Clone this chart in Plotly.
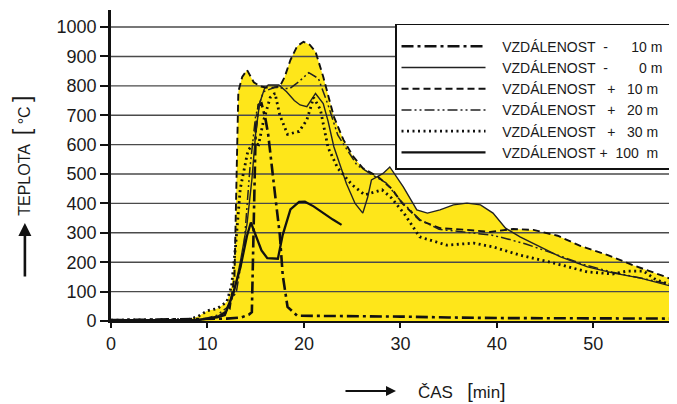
import plotly.graph_objects as go

# ---------------- data ----------------
t_m10 = [0, 5, 10, 12, 13.5, 14.3, 14.6, 14.8, 15.0, 15.3, 15.6, 16.0, 16.3, 16.9, 17.5, 17.8, 18.3, 19.3, 25, 30, 35, 40, 50, 59.5]
T_m10 = [3, 5, 6, 8, 12, 22, 30, 300, 650, 735, 740, 690, 633, 460, 293, 156, 48, 18, 17, 15, 12, 10, 9, 8]

t_0 = [0, 9, 10, 11, 12, 12.7, 13.4, 14.1, 14.6, 15.0, 15.4, 15.9, 16.3, 17.4, 18.2, 19.0, 19.6, 20.3, 21.2, 22.0,
       22.5, 23.1, 24.4, 25.3, 26.1, 26.6, 27.0, 28.2, 28.9, 30.3, 31.7, 32.8, 34.1, 35.5, 36.9, 38.3, 39.6, 40.9,
       42.4, 44.2, 46.6, 49.4, 52.1, 54.9, 58.7, 59.5]
T_0 = [2, 3, 8, 15, 35, 90, 200, 330, 480, 640, 740, 790, 803, 803, 780, 750, 735, 729, 774, 740,
       680, 593, 468, 400, 367, 420, 480, 502, 524, 456, 378, 367, 378, 395, 401, 395, 367, 316,
       286, 258, 218, 184, 163, 146, 112, 106]

t_p10 = [0, 5, 9, 10, 11, 12, 12.3, 12.8, 13.0, 13.2, 13.6, 14.1, 14.8, 15.5, 16.5, 17.5, 18.0, 18.6, 19.3, 19.95,
         20.6, 21.2, 22.0, 23.1, 24.1, 25.1, 26.1, 27.7, 29.1, 30.2, 32.0, 34.1, 36.9, 39.3, 41.7, 43.8, 46.3,
         48.7, 51.5, 54.1, 57.0, 58.7, 59.5]
T_p10 = [0, 2, 4, 8, 15, 30, 40, 150, 500, 780, 830, 854, 812, 798, 792, 798, 830, 888, 935, 950,
         940, 916, 831, 695, 616, 560, 520, 490, 450, 400, 343, 316, 310, 303, 313, 310, 290,
         255, 224, 190, 156, 133, 124]

t_p20 = [0, 9, 10, 11, 12, 13, 13.8, 14.4, 15.0, 15.8, 17.0, 18.5, 19.5, 20.5, 21.5, 22.5, 23.5, 25.5, 27.1,
         28.5, 30, 32, 34, 37, 39.5, 41, 43, 46, 49, 52, 55, 58.7, 59.5]
T_p20 = [2, 4, 10, 20, 45, 100, 260, 520, 700, 780, 795, 790, 815, 845, 825, 735, 633, 530, 497,
         470, 410, 345, 312, 302, 292, 280, 262, 228, 192, 166, 146, 120, 113]

t_p30 = [0, 8, 9, 10, 11, 12, 12.5, 12.9, 13.4, 14.2, 14.8, 15.3, 15.8, 16.5, 17.0, 17.5, 18.3, 19.5, 20.3, 21.0,
         21.7, 22.5, 23.5, 25.0, 26.3, 27.4, 28.1, 29.1, 30.5, 32.0, 34.8, 37.6, 39.6, 42.4, 45.9, 49.4, 52.0,
         53.5, 55.2, 56.5, 58.7, 59.5]
T_p30 = [3, 5, 15, 35, 42, 65, 120, 250, 450, 580, 605, 600, 680, 760, 775, 700, 635, 645, 684, 760,
         720, 590, 520, 463, 429, 439, 446, 418, 360, 286, 258, 265, 252, 224, 197, 167, 160,
         170, 170, 140, 116, 110]

t_p100 = [0, 9, 10, 11, 11.8, 12.7, 13.4, 14.1, 14.5, 15.0, 15.6, 16.2, 17.3, 17.8, 18.6, 19.5, 20.1, 21.0, 22.0, 23.0, 23.9]
T_p100 = [3, 3, 8, 12, 20, 99, 180, 290, 335, 290, 240, 214, 212, 293, 380, 405, 406, 390, 366, 345, 327]

NB = "\u00a0"
HEAD = NB * 3
TAIL = NB * 1
series_names = [HEAD + "VZDÁLENOST" + NB * 2 + "-" + NB * 6 + "10" + NB + "m" + TAIL,
                HEAD + "VZDÁLENOST" + NB * 2 + "-" + NB * 8 + "0" + NB + "m" + TAIL,
                HEAD + "VZDÁLENOST" + NB * 3 + "+" + NB * 3 + "10" + NB + "m" + TAIL,
                HEAD + "VZDÁLENOST" + NB * 3 + "+" + NB * 3 + "20" + NB + "m" + TAIL,
                HEAD + "VZDÁLENOST" + NB * 3 + "+" + NB * 3 + "30" + NB + "m" + TAIL,
                HEAD + "VZDÁLENOST" + NB + "+" + NB * 2 + "100" + NB * 2 + "m" + TAIL]

y_ticks = [0, 100, 200, 300, 400, 500, 600, 700, 800, 900, 1000]
x_ticks = [0, 10, 20, 30, 40, 50]
x_max = 59.5
y_max = 1058

# ---------------- figure ----------------
YELLOW = "#FEE61A"
series = [(t_m10, T_m10), (t_0, T_0), (t_p10, T_p10), (t_p20, T_p20), (t_p30, T_p30), (t_p100, T_p100)]
styles = [
    dict(color="#111", width=2.6, dash="12px,4px,3px,4px"),
    dict(color="#222", width=1.4, dash="solid"),
    dict(color="#111", width=1.9, dash="7px,4px"),
    dict(color="#222", width=1.5, dash="10px,3px,2px,3px,2px,3px"),
    dict(color="#111", width=2.8, dash="2px,3.5px"),
    dict(color="#111", width=2.3, dash="solid"),
]

fig = go.Figure()

# yellow filled area under every curve (opaque fills -> union)
for (tx, ty) in series:
    fig.add_trace(go.Scatter(x=tx, y=ty, mode="lines", fill="tozeroy",
                             fillcolor=YELLOW, line=dict(width=0, color=YELLOW),
                             showlegend=False, hoverinfo="skip"))

# horizontal grid lines over the fill
gx, gy = [], []
for v in y_ticks[1:]:
    gx += [0, x_max, None]
    gy += [v, v, None]
fig.add_trace(go.Scatter(x=gx, y=gy, mode="lines", line=dict(color="#4a4a4a", width=1.4),
                         showlegend=False, hoverinfo="skip"))

for (tx, ty), name, st in zip(series, series_names, styles):
    fig.add_trace(go.Scatter(x=tx, y=ty, mode="lines", name=name, line=st, cliponaxis=False))

fig.update_layout(
    width=677, height=404,
    margin=dict(l=103, r=0, t=2, b=91),
    paper_bgcolor="white", plot_bgcolor="white",
    font=dict(family="Arial, Liberation Sans, sans-serif", color="#1a1a1a"),
    showlegend=True,
    legend=dict(x=0.4948, y=0.955, xanchor="left", yanchor="top",
                bgcolor="white", bordercolor="#111", borderwidth=1.5,
                font=dict(size=14, color="#1a1a1a"), itemwidth=84,
                title=dict(text=NB, font=dict(size=4)),
                tracegroupgap=0, traceorder="normal"),
    xaxis=dict(range=[0, x_max], tickvals=x_ticks, ticktext=[str(v) for v in x_ticks],
               showgrid=False, zeroline=False, showline=True, linecolor="#111", linewidth=2,
               ticks="outside", ticklen=5, tickwidth=1.5, tickcolor="#111",
               tickfont=dict(size=18, color="#1a1a1a")),
    yaxis=dict(range=[0, y_max], tickvals=y_ticks, ticktext=[str(v) for v in y_ticks],
               showgrid=False, zeroline=False, showline=True, linecolor="#111", linewidth=2.6,
               ticks="outside", ticklen=8, tickwidth=1.5, tickcolor="#111",
               tickfont=dict(size=18, color="#1a1a1a")),
)

BRY = "<span style='font-size:23px'>%s</span>"
BRX = "<span style='font-size:20px'>%s</span>"
# axis titles with arrows
fig.add_annotation(text="TEPLOTA" + NB * 2 + BRY % "[" + NB + "°C" + NB + BRY % "]",
                   xref="paper", yref="paper", x=-0.154, y=0.530, xanchor="center", yanchor="middle",
                   textangle=-90, showarrow=False, font=dict(size=16, color="#1a1a1a"))
fig.add_annotation(text="", xref="paper", yref="paper", x=-0.150, y=0.315, ax=0, ay=55,
                   showarrow=True, arrowhead=2, arrowsize=1, arrowwidth=2.6, arrowcolor="#111")
fig.add_annotation(text="ČAS" + NB * 3 + BRX % "[" + "min" + BRX % "]",
                   xref="paper", yref="paper", x=0.611, y=-0.225, xanchor="center", yanchor="middle",
                   showarrow=False, font=dict(size=17, color="#1a1a1a"))
fig.add_annotation(text="", xref="paper", yref="paper", x=0.4965, y=-0.225, ax=-52, ay=0,
                   showarrow=True, arrowhead=2, arrowsize=1, arrowwidth=2, arrowcolor="#111")

fig.write_html("out.html")
